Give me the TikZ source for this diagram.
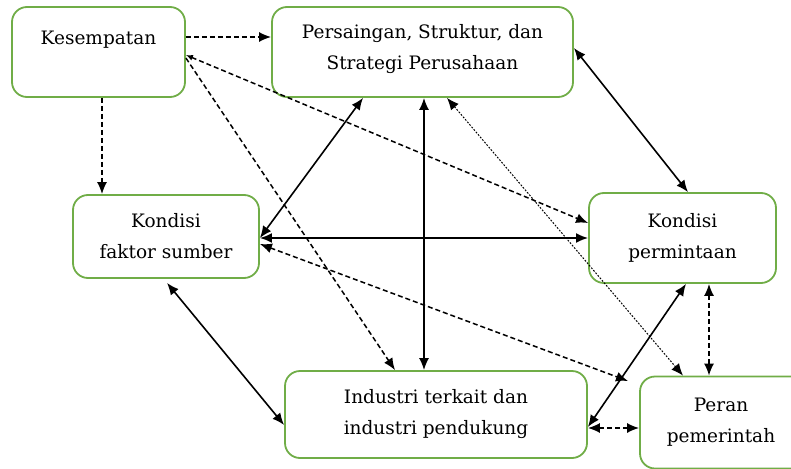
\documentclass[tikz,border=0pt]{standalone}
\usepackage{fontspec}
\setmainfont{DejaVu Serif}
\usetikzlibrary{arrows.meta}
\definecolor{boxgreen}{RGB}{112,173,71}
\begin{document}
\begin{tikzpicture}[x=1pt,y=-1pt,>={Latex[length=12pt,width=10pt]},
  txt/.style={font=\fontsize{18.5}{31}\selectfont,align=center},
  box/.style={draw=boxgreen,line width=1.8pt,rounded corners=15pt,fill=white,align=center,
    inner sep=0pt,font=\fontsize{18.5}{31}\selectfont},
  solidcon/.style={line width=1.6pt,black},
  dashcon/.style={line width=1.5pt,black,dash pattern=on 5pt off 3pt},
  dotcon/.style={line width=1pt,black,dash pattern=on 1.8pt off 1.5pt}]
\useasboundingbox (0,0) rectangle (791,468);
% boxes
\node[box,minimum width=173pt,minimum height=90pt,
  label={[txt,yshift=12pt]center:Kesempatan}] (kes) at (98.5,52) {};
\node[box,minimum width=301pt,minimum height=90pt] (per) at (422.5,52) {Persaingan, Struktur, dan\\Strategi Perusahaan\\[-30pt]\strut};
\node[box,minimum width=186pt,minimum height=83pt] (kfs) at (166,236.5) {Kondisi\\faktor sumber};
\node[box,minimum width=187pt,minimum height=90pt] (kp) at (682.5,238) {Kondisi\\permintaan};
\node[box,minimum width=302pt,minimum height=87pt] (ind) at (436,414.5) {Industri terkait dan\\industri pendukung};
\node[box,minimum width=180pt,minimum height=92pt,text width=160pt] (peran) at (730,422.5) {\hspace*{-18pt}Peran\\\hspace*{-18pt}pemerintah};
\coordinate (mid) at (628,381);
% connectors
\draw[dashcon,->] ([yshift=15pt]kes.east) -- ([yshift=15pt]per.west);
\draw[dashcon,->] ([xshift=3.5pt]kes.south) -- ([xshift=3.5pt]kes.south |- kfs.north);
\draw[dashcon,{Latex[length=7pt,width=6pt]}->] ([yshift=-3pt]kes.east) -- ([yshift=15pt]kp.west);
\draw[dashcon,->] ([yshift=-6pt]kes.east) -- ([xshift=-41pt]ind.north);
\draw[solidcon,<->] ([xshift=-59.5pt]per.south) -- ([yshift=-1.5pt]kfs.east);
\draw[solidcon,<->] ([xshift=1.5pt]per.south) -- ([xshift=1.5pt]per.south |- ind.north);
\draw[dotcon,<->] ([xshift=24.5pt]per.south) -- ([xshift=-47pt]peran.north);
\draw[solidcon,<->] ([yshift=4pt]per.east) -- ([xshift=5.5pt]kp.north);
\draw[solidcon,line width=2pt,<->] ([yshift=-1.5pt]kfs.east) -- (kp.west);
\draw[dashcon,<->] ([yshift=-7.5pt]kfs.east) -- (mid);
\draw[solidcon,<->] ([xshift=1pt,yshift=-4pt]kfs.south) -- ([yshift=-10.5pt]ind.west);
\draw[solidcon,<->] ([xshift=3.5pt]kp.south) -- ([yshift=-12.5pt]ind.east);
\draw[dashcon,<->] ([xshift=26.5pt]kp.south) -- ([xshift=26.5pt]kp.south |- peran.north);
\draw[dashcon,<->] ([yshift=-13.5pt]ind.east) -- ([yshift=-5.5pt]peran.west);
\end{tikzpicture}
\end{document}
